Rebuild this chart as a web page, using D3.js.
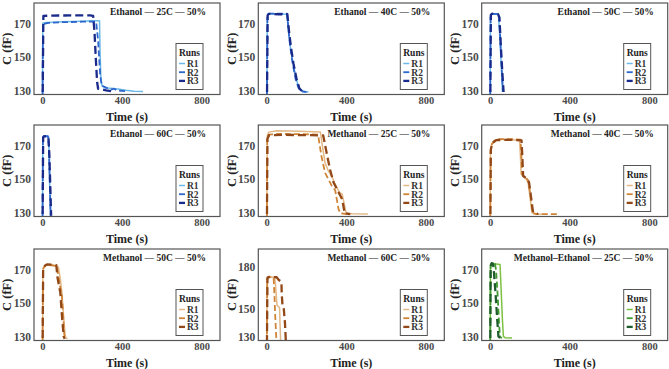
<!DOCTYPE html>
<html>
<head>
<meta charset="utf-8">
<script src="https://cdn.jsdelivr.net/npm/d3@7"></script>
<style>
  body { margin: 0; background: #fff; }
  svg { display: block; font-family: 'Liberation Serif', 'Times New Roman', serif; }
</style>
</head>
<body>
<div id="chart"></div>
<script>
// Runs per panel: [time (s), C (fF)] pairs
const eth25 = [
  [[0,100],[2,170.5],[20,171],[60,171.2],[100,171.5],[150,171.6],[200,171.8],[250,172],[287,172],[290,152],[294,137],[300,132.5],[330,131.5],[380,130.8],[420,130],[460,129.5],[505,129.3]],
  [[0,100],[3,170],[30,170.8],[100,171.2],[200,171.5],[270,171.5],[280,160],[290,140],[298,133],[320,131.5],[345,130.5],[360,131],[375,130],[420,129.5]],
  [[0,100],[5,175],[50,175.2],[150,175.3],[240,175.3],[255,175],[262,165],[268,150],[275,135],[280,131],[320,130],[350,129.5]]
];
const eth40 = [
  [[0,100],[3,174],[8,176.3],[50,176.2],[100,176],[103,174],[110,165],[120,155],[135,145],[150,136],[165,131],[180,129.5],[210,129]],
  [[0,100],[4,175],[10,176.4],[60,176.3],[102,176.3],[106,172],[115,160],[128,148],[145,137],[160,131.5],[175,129.5],[200,129]],
  [[0,100],[5,175.5],[12,176.2],[60,176],[104,176],[110,168],[122,156],[135,146],[150,137],[165,131],[180,129.3]]
];
const eth50 = [
  [[0,100],[2,175],[5,176],[30,176.2],[42,176],[50,160],[58,140],[62,129]],
  [[0,100],[3,175.5],[8,176.2],[35,176.2],[45,175.5],[52,160],[60,140],[65,129]],
  [[0,100],[4,175.5],[10,176.3],[40,176],[47,174],[55,155],[63,138],[68,129]]
];
const eth60 = [
  [[0,100],[2,175],[5,176],[25,176],[32,175.5],[36,150],[40,128]],
  [[0,100],[3,175.5],[8,176],[28,176],[33,170],[37,150],[42,128]],
  [[0,100],[4,175.5],[10,176],[30,175.8],[35,165],[40,145],[44,128]]
];
const met25 = [
  [[0,100],[3,176],[10,178.5],[50,179.3],[120,179.1],[200,178.8],[270,178.5],[280,170],[293,160],[310,155],[327,152],[340,148],[353,145],[365,142],[379,141],[390,135],[399,129.4],[430,129.2],[508,129]],
  [[0,100],[3,175],[10,177],[60,177.4],[150,177.3],[258,177],[275,164],[293,154],[310,150],[327,146],[344,143.4],[352,138],[361,132],[370,129.4],[400,129]],
  [[0,100],[4,174.5],[12,176.6],[80,176.8],[200,176.7],[284,176.5],[301,166],[318,156],[336,148],[353,144],[366,141],[379,138],[392,129.4],[420,129]]
];
const met40 = [
  [[0,100],[2,168],[8,171],[20,173],[40,174],[100,174],[148,173.5],[152,165],[156,153],[175,151],[190,148.5],[200,140],[210,130],[220,129],[260,128.9]],
  [[0,100],[3,167],[10,171.5],[25,173.5],[50,174.3],[110,174.2],[153,174],[157,165],[161,153],[180,151],[193,149],[203,140],[213,130],[230,129],[350,128.9]],
  [[0,100],[4,168],[12,172],[30,173.6],[60,173.8],[120,173.8],[158,173.5],[162,164],[166,152],[184,150.5],[196,148],[206,139],[216,130],[240,129]]
];
const met50 = [
  [[0,100],[3,171],[12,172.5],[20,173.2],[40,172.8],[60,172.5],[80,172],[90,165],[98,156.6],[106,143],[115,130],[125,128.5]],
  [[0,100],[3,170.5],[10,172],[22,173.4],[50,173],[73,172.5],[80,167],[86,162.5],[92,158],[98,154.6],[104,143],[110,131],[118,128.5]],
  [[0,100],[4,171.5],[15,173],[25,173.5],[50,173.3],[70,173],[76,165.5],[83,161],[90,156.6],[98,143],[107,130],[112,128.5]]
];
const met60 = [
  [[0,100],[2,172],[5,172.8],[25,173],[40,172.8],[44,168],[48,160],[52,153],[58,152],[65,151],[67,140],[70,128]],
  [[0,100],[3,171.5],[8,172.8],[25,172.9],[35,172.5],[39,160],[43,145],[48,130],[52,128]],
  [[0,100],[4,172.5],[10,173],[50,172.8],[60,171],[74,169.5],[76,160],[80,152],[86,150],[92,140],[96,128]]
];
const me25 = [
  [[0,100],[2,173],[6,174],[30,173.8],[50,173.5],[55,160],[62,140],[67,130],[75,129.2],[110,129]],
  [[0,100],[3,173],[8,174],[25,173.8],[30,170],[38,155],[45,138],[50,129.5],[60,129]],
  [[0,100],[3,172.5],[8,174.2],[15,174],[20,168],[28,155],[36,140],[42,130],[50,129]]
];

const panelRuns = [eth25, eth40, eth50, eth60, met25, met40, met50, met60, me25];
const panelTitles = [
  'Ethanol — 25C — 50%', 'Ethanol — 40C — 50%', 'Ethanol — 50C — 50%',
  'Ethanol — 60C — 50%', 'Methanol — 25C — 50%', 'Methanol — 40C — 50%',
  'Methanol — 50C — 50%', 'Methanol — 60C — 50%', 'Methanol–Ethanol — 25C — 50%'
];
const runNames = ['R1', 'R2', 'R3'];
const ethanolColors = ['#6cb8e6', '#2d66cc', '#1a2a8a'];
const methanolColors = ['#e2b887', '#cf8538', '#934817'];
const mixColors = ['#7cc142', '#3f9b2f', '#1f5e2c'];
const panelPalette = [ethanolColors, ethanolColors, ethanolColors, ethanolColors,
  methanolColors, methanolColors, methanolColors, methanolColors, mixColors];
const xTicks = [0, 400, 800];
const yTicksStd = [130, 150, 170];
const yTicksWide = [130, 150, 180];
const panelYTicks = [yTicksStd, yTicksStd, yTicksStd, yTicksStd, yTicksStd,
  yTicksStd, yTicksStd, yTicksWide, yTicksStd];

// layout
const width = 669, height = 369;
const colLeft = [34, 258.3, 481.7];
const rowTop = [3, 125, 249];
const pw = 186, ph = 91.5;
const runWidth = [1.5, 1.8, 2.3];
const runDash = [null, '6,3', '8,4'];

const svg = d3.select('#chart').append('svg').attr('width', width).attr('height', height);

panelRuns.forEach((runs, i) => {
  const col = i % 3, row = Math.floor(i / 3);
  const g = svg.append('g').attr('transform', `translate(${colLeft[col]},${rowTop[row]})`);
  const x = d3.scaleLinear().domain([-42, 892]).range([0, pw]);
  const yDom = i === 7 ? [127.6, 193] : [127.5, 182.8];
  const y = d3.scaleLinear().domain(yDom).range([ph, 0]);

  g.append('clipPath').attr('id', `clip${i}`)
    .append('rect').attr('width', pw).attr('height', ph);

  const line = d3.line().x(d => x(d[0])).y(d => y(d[1]));
  const colors = panelPalette[i];
  const plot = g.append('g').attr('clip-path', `url(#clip${i})`);
  runs.forEach((run, r) => {
    plot.append('path')
      .datum(run)
      .attr('d', line)
      .attr('fill', 'none')
      .attr('stroke', colors[r])
      .attr('stroke-width', runWidth[r])
      .attr('stroke-dasharray', runDash[r])
      .attr('stroke-linejoin', 'round');
  });

  // axes
  const xAxis = g.append('g').attr('transform', `translate(0,${ph})`)
    .call(d3.axisBottom(x).tickValues(xTicks).tickSize(0).tickPadding(2));
  const yAxis = g.append('g')
    .call(d3.axisLeft(y).tickValues(panelYTicks[i]).tickSize(0).tickPadding(3));
  xAxis.select('.domain').remove();
  yAxis.select('.domain').remove();
  xAxis.selectAll('text').attr('font-size', 10.5);
  yAxis.selectAll('text').attr('font-size', 11.5);
  [xAxis, yAxis].forEach(a => {
    a.selectAll('text')
      .attr('font-family', "'Liberation Serif', serif")
      .attr('font-weight', 'bold')
      .attr('fill', '#4a4a4a');
  });

  g.append('rect').attr('width', pw).attr('height', ph)
    .attr('fill', 'none').attr('stroke', '#555').attr('stroke-width', 1.2);

  g.append('text').attr('x', pw / 2).attr('y', ph + 26)
    .attr('text-anchor', 'middle').attr('font-size', 12).attr('font-weight', 'bold')
    .attr('fill', '#222').text('Time (s)');
  g.append('text').attr('transform', `translate(-27,${ph / 2}) rotate(-90)`)
    .attr('text-anchor', 'middle').attr('dy', '0.35em').attr('font-size', 12.5)
    .attr('font-weight', 'bold').attr('fill', '#222').text('C (fF)');

  g.append('text').attr('x', pw - 14).attr('y', 12)
    .attr('text-anchor', 'end').attr('font-size', 9.5).attr('font-weight', 'bold')
    .attr('fill', '#222').text(panelTitles[i]);

  // legend
  const lw = 27, lh = 46;
  const lg = g.append('g').attr('transform', `translate(${pw - 17 - lw},${ph - 5 - lh})`);
  lg.append('rect').attr('width', lw).attr('height', lh)
    .attr('fill', '#fff').attr('stroke', '#555').attr('stroke-width', 1);
  lg.append('text').attr('x', lw / 2).attr('y', 9.5).attr('dy', '0.35em')
    .attr('text-anchor', 'middle').attr('font-size', 9.5).attr('font-weight', 'bold')
    .attr('fill', '#222').text('Runs');
  runNames.forEach((name, r) => {
    const ly = 20 + r * 8.7;
    lg.append('line').attr('x1', 3).attr('x2', 9).attr('y1', ly).attr('y2', ly)
      .attr('stroke', colors[r]).attr('stroke-width', runWidth[r]);
    lg.append('text').attr('x', 11).attr('y', ly).attr('dy', '0.35em')
      .attr('font-size', 9.5).attr('font-weight', 'bold').attr('fill', '#333').text(name);
  });
});
</script>
</body>
</html>
